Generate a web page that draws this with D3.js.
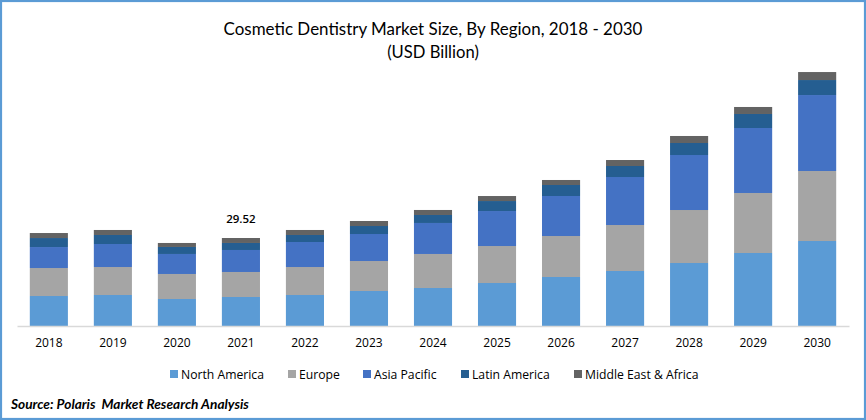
<!DOCTYPE html>
<html>
<head>
<meta charset="utf-8">
<script src="https://cdnjs.cloudflare.com/ajax/libs/d3/7.8.5/d3.min.js"></script>
<style>
html, body { margin: 0; padding: 0; background: #fff; }
svg { display: block; }
text { font-family: "Open Sans", sans-serif; fill: #000; }
</style>
</head>
<body>
<svg id="chart" width="866" height="420"></svg>
<script>
var years = ["2018","2019","2020","2021","2022","2023","2024","2025","2026","2027","2028","2029","2030"];
var regions = ["North America","Europe","Asia Pacific","Latin America","Middle East & Africa"];
var colors = ["#5b9bd5","#a5a5a5","#4472c4","#255e91","#636363"];

// values, USD billion
var northAmerica = [10.06,10.40,9.06,9.73,10.40,11.74,12.75,14.42,16.44,18.45,21.13,24.49,28.51];
var europe = [9.39,9.39,8.39,8.39,9.39,10.06,11.41,12.41,13.75,15.43,17.78,20.13,23.48];
var asiaPacific = [7.04,7.72,6.71,7.38,8.39,9.06,10.40,11.74,13.42,16.10,18.45,21.80,25.49];
var latinAmerica = [3.02,3.02,2.35,2.35,2.35,2.68,2.68,3.35,3.69,3.69,4.03,4.70,5.03];
var middleEast = [1.68,1.68,1.34,1.67,1.68,1.68,1.68,1.68,1.68,2.01,2.35,2.35,2.68];
var seriesValues = [northAmerica, europe, asiaPacific, latinAmerica, middleEast];
var labelYear = "2021";
var labelText = "29.52";

var svg = d3.select("#chart");

// outer frame
svg.append("rect")
    .attr("x", 1).attr("y", 1)
    .attr("width", 864).attr("height", 418)
    .attr("fill", "none")
    .attr("stroke", "#5b9bd5")
    .attr("stroke-width", 2.2);

svg.append("text")
    .attr("x", 433).attr("y", 34.5)
    .attr("text-anchor", "middle")
    .style("font-family", "Lato, sans-serif")
    .style("font-size", "16.95px")
    .text("Cosmetic Dentistry Market Size, By Region, 2018 - 2030");

svg.append("text")
    .attr("x", 433).attr("y", 57.5)
    .attr("text-anchor", "middle")
    .style("font-family", "Lato, sans-serif")
    .style("font-size", "16.6px")
    .text("(USD Billion)");

var x = d3.scaleBand()
    .domain(years)
    .range([17, 849])
    .paddingInner(0.405)
    .paddingOuter(0.2);

var y = d3.scaleLinear()
    .domain([0, 29.52])
    .range([326, 238]);

var stackRows = years.map(function (yr, i) {
    var row = { year: yr };
    regions.forEach(function (r, j) { row[r] = seriesValues[j][i]; });
    return row;
});

var stacked = d3.stack().keys(regions)(stackRows);

svg.selectAll("g.layer")
    .data(stacked)
    .enter()
    .append("g")
    .attr("class", "layer")
    .attr("fill", function (d, i) { return colors[i]; })
    .selectAll("rect")
    .data(function (d) { return d; })
    .enter()
    .append("rect")
    .attr("x", function (d) { return x(d.data.year); })
    .attr("y", function (d) { return y(d[1]); })
    .attr("width", x.bandwidth())
    .attr("height", function (d) { return y(d[0]) - y(d[1]); });

var axis = svg.append("g")
    .attr("transform", "translate(0,326)")
    .call(d3.axisBottom(x).tickSize(0).tickPadding(12));
axis.select(".domain").attr("stroke", "#d9d9d9").attr("stroke-width", 1.5);
axis.selectAll("text")
    .style("font-family", "'Open Sans', sans-serif")
    .style("font-size", "12px")
    .attr("fill", "#000");

// single total label
var labelIndex = years.indexOf(labelYear);
var labelTotal = d3.sum(seriesValues, function (s) { return s[labelIndex]; });
svg.append("text")
    .attr("x", x(labelYear) + x.bandwidth() / 2)
    .attr("y", y(labelTotal) - 15)
    .attr("text-anchor", "middle")
    .style("font-size", "11.5px")
    .style("font-weight", "600")
    .text(labelText);

// legend
var legendX = [170, 288, 363, 461, 574];
var legend = svg.selectAll("g.legend")
    .data(regions)
    .enter()
    .append("g")
    .attr("class", "legend")
    .attr("transform", function (d, i) { return "translate(" + legendX[i] + ",370)"; });
legend.append("rect")
    .attr("width", 8).attr("height", 8)
    .attr("fill", function (d, i) { return colors[i]; });
legend.append("text")
    .attr("x", 11).attr("y", 8.5)
    .style("font-size", "12.2px")
    .text(function (d) { return d; });

svg.append("text")
    .attr("x", 11).attr("y", 409)
    .style("font-family", "Lato, sans-serif")
    .style("font-size", "13.7px")
    .style("font-weight", "700")
    .style("font-style", "italic")
    .style("white-space", "pre")
    .text("Source: Polaris  Market Research Analysis");
</script>
</body>
</html>
